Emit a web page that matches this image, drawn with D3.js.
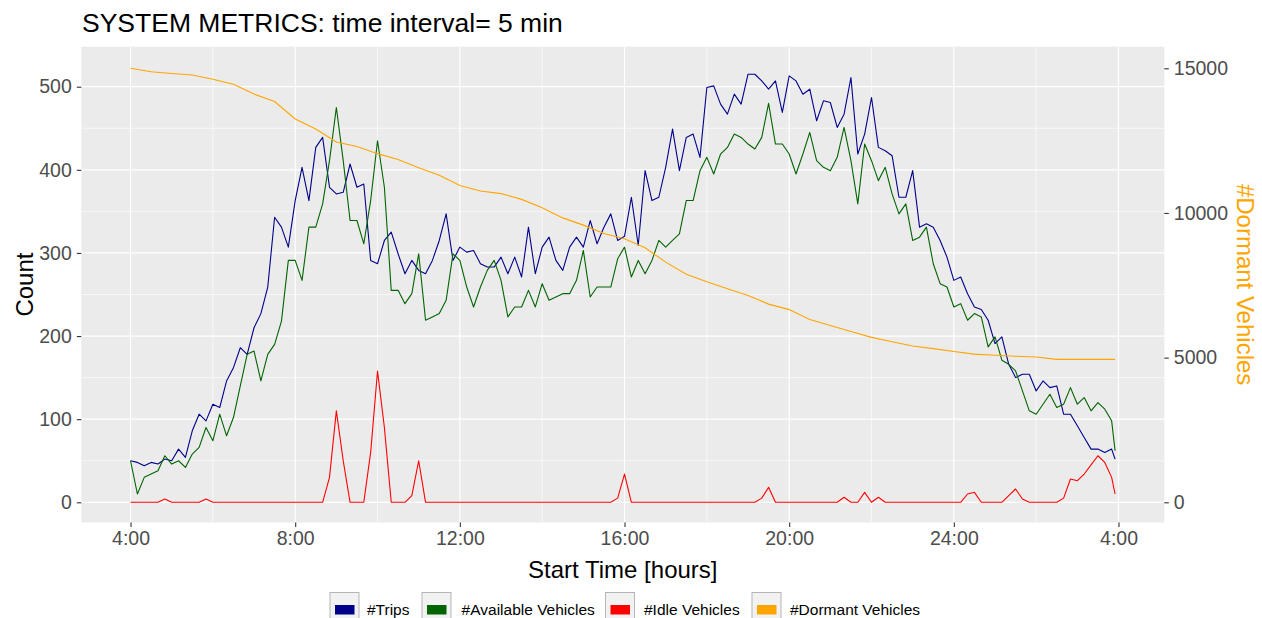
<!DOCTYPE html>
<html><head><meta charset="utf-8">
<script src="https://cdn.jsdelivr.net/npm/d3@7"></script>
<style>
body{margin:0;background:#fff}
svg{display:block}
text{font-family:"Liberation Sans", Arial, sans-serif}
</style>
</head><body>
<svg id="chart" width="1262" height="618"></svg>
<script>
// ---- data (10-minute samples from 4:00 to 27:50, plus final point at 27:55) ----
const trips = [
  50,48,44,48,46,52,
  50,64,54,86,106,98,
  118,114,146,162,186,178,
  210,227,259,343,331,307,
  363,403,363,427,439,379,
  371,373,407,379,383,291,
  287,315,325,299,275,291,
  279,275,291,315,347,291,
  307,301,303,287,283,283,
  295,275,295,271,331,275,
  307,319,291,279,307,319,
  307,339,311,331,347,315,
  320,367,309,399,363,367,
  403,449,399,439,443,415,
  499,501,479,467,491,479,
  515,515,507,497,507,469,
  513,507,491,497,459,483,
  481,451,467,511,419,443,
  487,427,423,417,367,367,
  399,331,335,331,315,295,
  267,271,251,235,232,219,
  191,199,166,150,154,154,
  134,146,138,140,106,106,
  92,78,64,64,60,64,
  52
];
const available = [
  50,10,30,34,38,56,
  46,50,42,58,66,90,
  74,106,80,102,140,178,
  182,146,178,190,218,291,
  291,267,331,331,359,411,
  475,411,339,339,311,363,
  435,379,255,255,239,251,
  299,219,223,227,243,299,
  291,259,235,259,279,291,
  267,223,235,235,255,235,
  263,243,247,251,251,267,
  303,247,259,259,259,293,
  307,271,291,275,291,315,
  307,315,323,363,363,399,
  415,395,419,427,443,439,
  431,425,439,480,431,431,
  419,395,419,445,411,403,
  399,415,451,411,359,431,
  411,387,403,371,347,359,
  315,319,331,287,263,259,
  235,239,219,227,223,187,
  199,171,166,158,134,110,
  106,118,130,114,118,138,
  118,126,110,120,112,98,
  62
];
const idle = [
  0,0,0,0,0,4,
  0,0,0,0,0,4,
  0,0,0,0,0,0,
  0,0,0,0,0,0,
  0,0,0,0,0,30,
  110,50,0,0,0,60,
  158,90,0,0,0,8,
  50,0,0,0,0,0,
  0,0,0,0,0,0,
  0,0,0,0,0,0,
  0,0,0,0,0,0,
  0,0,0,0,0,5,
  34,0,0,0,0,0,
  0,0,0,0,0,0,
  0,0,0,0,0,0,
  0,0,5,18,0,0,
  0,0,0,0,0,0,
  0,0,6,0,0,12,
  0,6,0,0,0,0,
  0,0,0,0,0,0,
  0,0,10,12,0,0,
  0,0,8,16,4,0,
  0,0,0,0,5,28,
  26,34,45,56,48,30,
  10
];
// dormant vehicles: 30-minute samples from 4:00 to 27:30, plus final point at 27:55
const dormant = [
  15000,14880,14820,14770,14620,14450,14110,13850,13250,12900,12450,12300,
  12050,11850,11560,11300,10950,10760,10670,10470,10180,9830,9580,9290,
  9110,8800,8300,7880,7620,7380,7150,6850,6660,6320,6110,5900,
  5700,5550,5400,5310,5210,5120,5080,5050,5020,4940,4940,4940,
  4940
];
const xTickHours = [4,8,12,16,20,24,28];
const xTickLabels = ["4:00","8:00","12:00","16:00","20:00","24:00","4:00"];
const yTicks = [0,100,200,300,400,500];
const yRightTicks = [0,5000,10000,15000];
const seriesNames = ["#Trips","#Available Vehicles","#Idle Vehicles","#Dormant Vehicles"];
const seriesColors = ["#00008B","#006400","#FF0000","#FFA500"];

const lastHour = 4 + 1435/60;
const tenMinHours = trips.map((d,i)=> i < 144 ? 4 + i/6 : lastHour);
const halfHourHours = dormant.map((d,i)=> i < 48 ? 4 + i/2 : lastHour);

const svg = d3.select("#chart");
const P = {l:81.3, r:1164.3, t:46.7, b:522.5};
const span = lastHour - 4;
const x = d3.scaleLinear().domain([4 - 0.05*span, lastHour + 0.05*span]).range([P.l, P.r]);
const y = d3.scaleLinear().domain([0,500]).range([502.3, 86.7]);
const yR = d3.scaleLinear().domain([0,15000]).range([502.3, 68.3]);

// panel
svg.append("rect").attr("x",P.l).attr("y",P.t).attr("width",P.r-P.l).attr("height",P.b-P.t).attr("fill","#EBEBEB");
const grid = svg.append("g");
const xMinor = [6,10,14,18,22,26];
const yMinor = [50,150,250,350,450];
grid.selectAll(".ym").data(yMinor).join("line").attr("x1",P.l).attr("x2",P.r)
  .attr("y1",d=>y(d)).attr("y2",d=>y(d)).attr("stroke","#fff").attr("stroke-width",0.6);
grid.selectAll(".xm").data(xMinor).join("line").attr("y1",P.t).attr("y2",P.b)
  .attr("x1",d=>x(d)).attr("x2",d=>x(d)).attr("stroke","#fff").attr("stroke-width",0.6);
grid.selectAll(".yM").data(yTicks).join("line").attr("x1",P.l).attr("x2",P.r)
  .attr("y1",d=>y(d)).attr("y2",d=>y(d)).attr("stroke","#fff").attr("stroke-width",1.2);
grid.selectAll(".xM").data(xTickHours).join("line").attr("y1",P.t).attr("y2",P.b)
  .attr("x1",d=>x(d)).attr("x2",d=>x(d)).attr("stroke","#fff").attr("stroke-width",1.2);

// lines
svg.append("clipPath").attr("id","pc").append("rect")
  .attr("x",P.l).attr("y",P.t).attr("width",P.r-P.l).attr("height",P.b-P.t);
const lg = svg.append("g").attr("clip-path","url(#pc)");
const lineL = d3.line().x(d=>x(d[0])).y(d=>y(d[1]));
const lineR = d3.line().x(d=>x(d[0])).y(d=>yR(d[1]));
[[trips,0],[available,1],[idle,2]].forEach(([arr,k])=>{
  lg.append("path").datum(arr.map((v,i)=>[tenMinHours[i],v])).attr("d",lineL)
    .attr("fill","none").attr("stroke",seriesColors[k]).attr("stroke-width",1.1).attr("stroke-linejoin","round");
});
lg.append("path").datum(dormant.map((v,i)=>[halfHourHours[i],v])).attr("d",lineR)
  .attr("fill","none").attr("stroke",seriesColors[3]).attr("stroke-width",1.1);

// axes
const tickCol = "#333333", labCol = "#4D4D4D";
const ax = svg.append("g").attr("transform",`translate(0,${P.b})`)
  .call(d3.axisBottom(x).tickValues(xTickHours).tickSize(4.5).tickPadding(4).tickFormat((d,i)=>xTickLabels[i]));
ax.select(".domain").remove();
ax.selectAll("line").attr("stroke",tickCol).attr("stroke-width",1.1);
ax.selectAll("text").attr("fill",labCol).attr("font-size","19.5px").attr("font-family","Liberation Sans, Arial, sans-serif");

const ay = svg.append("g").attr("transform",`translate(${P.l},0)`)
  .call(d3.axisLeft(y).tickValues(yTicks).tickSize(4.5).tickPadding(5));
ay.select(".domain").remove();
ay.selectAll("line").attr("stroke",tickCol).attr("stroke-width",1.1);
ay.selectAll("text").attr("fill",labCol).attr("font-size","19.5px").attr("font-family","Liberation Sans, Arial, sans-serif");

const ayR = svg.append("g").attr("transform",`translate(${P.r},0)`)
  .call(d3.axisRight(yR).tickValues(yRightTicks).tickSize(4.5).tickPadding(5).tickFormat(d3.format("d")));
ayR.select(".domain").remove();
ayR.selectAll("line").attr("stroke",tickCol).attr("stroke-width",1.1);
ayR.selectAll("text").attr("fill",labCol).attr("font-size","19.5px").attr("font-family","Liberation Sans, Arial, sans-serif");

// titles
svg.append("text").attr("x",82).attr("y",32).attr("font-size","26.5px").attr("fill","#000")
  .text("SYSTEM METRICS: time interval= 5 min");
svg.append("text").attr("transform",`translate(32.5,${(P.t+P.b)/2}) rotate(-90)`)
  .attr("text-anchor","middle").attr("font-size","24px").attr("fill","#000").text("Count");
svg.append("text").attr("x",(P.l+P.r)/2).attr("y",578).attr("text-anchor","middle")
  .attr("font-size","24px").attr("fill","#000").text("Start Time [hours]");
svg.append("text").attr("transform",`translate(1237,${(P.t+P.b)/2}) rotate(90)`)
  .attr("text-anchor","middle").attr("font-size","24px").attr("fill",seriesColors[3]).text("#Dormant Vehicles");

// legend
const legBoxX = [330,422,605.5,752];
const legTextX = [367,461.6,644,790];
const leg = svg.append("g");
seriesNames.forEach((n,i)=>{
  leg.append("rect").attr("x",legBoxX[i]).attr("y",592.5).attr("width",29).attr("height",34)
    .attr("fill","#F2F2F2").attr("stroke","#B5B5B5").attr("stroke-width",1);
  leg.append("rect").attr("x",legBoxX[i]+5).attr("y",605).attr("width",19.5).attr("height",9.5)
    .attr("fill",seriesColors[i]);
  leg.append("text").attr("x",legTextX[i]).attr("y",615).attr("font-size","15.5px").attr("fill","#000").text(n);
});
</script>
</body></html>
